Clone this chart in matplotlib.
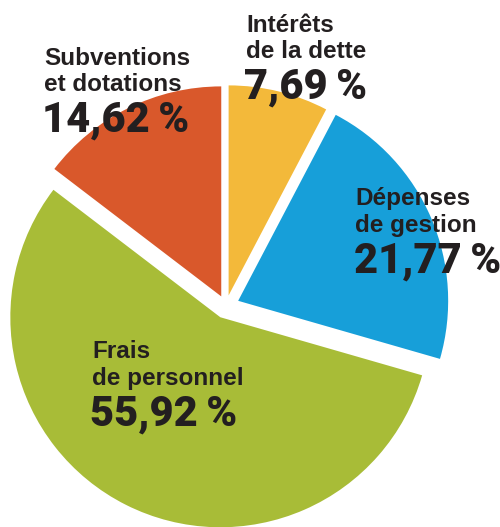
import matplotlib.pyplot as plt

labels = ["Intérêts\nde la dette", "Dépenses\nde gestion", "Frais\nde personnel", "Subventions\net dotations"]
values = [7.69, 21.77, 55.92, 14.62]
value_texts = ["7,69\u2009%", "21,77\u2009%", "55,92\u2009%", "14,62\u2009%"]
colors = ["#F3B93A", "#179FD9", "#A8BC37", "#D9582B"]
explode = [0.052, 0.063, 0.06, 0.051]

# left x and baselines (line 1, line 2, number) in image pixels
label_x = [246, 355, 92, 44]
label_base = [(32, 58, 99), (205, 232, 273), (358, 385, 426), (65, 91, 132)]

W, H = 500, 527
fig = plt.figure(figsize=(W / 100, H / 100), dpi=100)
ax = fig.add_axes([0, 0, 1, 1])

cx, cy, r = 226, 306, 210
ax.pie(values, colors=colors, startangle=90, counterclock=False, explode=explode,
       radius=1, wedgeprops=dict(linewidth=0))
ax.set_xlim(-cx / r, (W - cx) / r)
ax.set_ylim(-(H - cy) / r, cy / r)
ax.set_aspect("auto")
ax.axis("off")

dark = "#231F20"
for lab, val, px, (b1, b2, b3) in zip(labels, value_texts, label_x, label_base):
    l1, l2 = lab.split("\n")
    fig.text(px / W, 1 - b1 / H, l1, fontsize=17.5, fontweight="bold", family="Liberation Sans",
             color=dark, va="baseline", ha="left")
    fig.text(px / W, 1 - b2 / H, l2, fontsize=17.5, fontweight="bold", family="Liberation Sans",
             color=dark, va="baseline", ha="left")
    fig.text(px / W - 0.003, 1 - b3 / H, val, fontsize=30, fontweight="black",
             family=["Roboto", "DejaVu Sans"], color=dark, va="baseline", ha="left")

fig.savefig("out.png", dpi=100)
